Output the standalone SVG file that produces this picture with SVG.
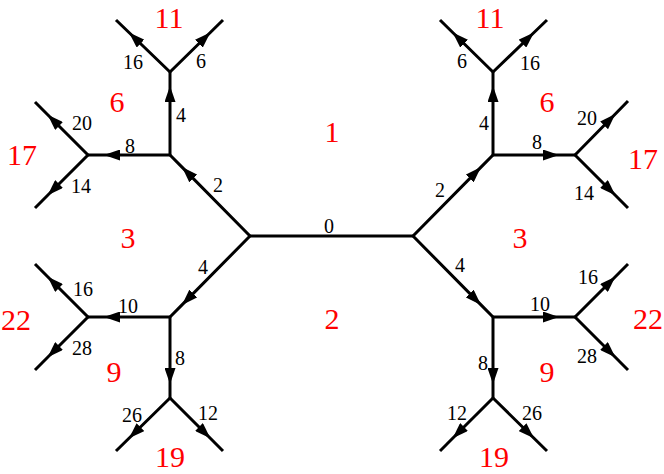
<svg xmlns="http://www.w3.org/2000/svg" width="664" height="474" viewBox="0 0 664 474">
<style>
.e{fill:none;stroke:#000;stroke-width:3;stroke-linecap:butt;stroke-linejoin:miter;marker-mid:url(#arr)}
.c{fill:none;stroke:#000;stroke-width:3}
.k{font-family:"Liberation Serif","DejaVu Serif",serif;font-size:20px;fill:#000;text-anchor:middle}
.r{font-family:"Liberation Serif","DejaVu Serif",serif;font-size:30px;fill:#ff0000;text-anchor:middle}
</style>
<defs>
<marker id="arr" markerUnits="userSpaceOnUse" viewBox="0 0 16 11" markerWidth="16" markerHeight="11" refX="16" refY="5.5" orient="auto">
<path d="M0,0 L16,5.5 L0,11 Z" fill="#000"/>
</marker>
</defs>
<rect width="664" height="474" fill="#fff"/>
<g id="connectors">
<path class="c" d="M250,236 L413,236"/>
<!-- left top -->
<path class="e" d="M250,236 L182,167.1 L170,155"/>
<path class="e" d="M170,155 L170,86 L170,72"/>
<path class="e" d="M170,155 L104,155 L88,155"/>
<path class="e" d="M170,72 L129,32.5 L116,20"/>
<path class="e" d="M170,72 L210.3,32.5 L223,20"/>
<path class="e" d="M88,155 L47.7,114.7 L35,102"/>
<path class="e" d="M88,155 L47.7,195.3 L35,208"/>
<!-- right top -->
<path class="e" d="M413,236 L481,167.1 L493,155"/>
<path class="e" d="M493,155 L493,86 L493,72"/>
<path class="e" d="M493,155 L559,155 L575,155"/>
<path class="e" d="M493,72 L452.7,32.5 L440,20"/>
<path class="e" d="M493,72 L534,32.5 L547,20"/>
<path class="e" d="M575,155 L615.3,114 L628,101"/>
<path class="e" d="M575,155 L615.3,195.3 L628,208"/>
<!-- left bottom -->
<path class="e" d="M250,236 L182,304.9 L170,317"/>
<path class="e" d="M170,317 L104,317 L88,317"/>
<path class="e" d="M170,317 L170,384 L170,398"/>
<path class="e" d="M88,317 L47.7,276.7 L35,264"/>
<path class="e" d="M88,317 L47.7,357.3 L35,370"/>
<path class="e" d="M170,398 L129,438.3 L116,451"/>
<path class="e" d="M170,398 L210.3,438.3 L223,451"/>
<!-- right bottom -->
<path class="e" d="M413,236 L481,304.9 L493,317"/>
<path class="e" d="M493,317 L559,317 L575,317"/>
<path class="e" d="M493,317 L493,384 L493,398"/>
<path class="e" d="M575,317 L615.3,276.7 L628,264"/>
<path class="e" d="M575,317 L615.3,357.3 L628,370"/>
<path class="e" d="M493,398 L452.7,438.3 L440,451"/>
<path class="e" d="M493,398 L534,438.3 L547,451"/>
</g>
<g id="edge-labels">
<text class="k" x="329" y="233">0</text>
<text class="k" x="218" y="192">2</text>
<text class="k" x="181" y="122">4</text>
<text class="k" x="133" y="69">16</text>
<text class="k" x="201" y="68">6</text>
<text class="k" x="130" y="153">8</text>
<text class="k" x="82" y="130">20</text>
<text class="k" x="81" y="193">14</text>
<text class="k" x="440" y="197">2</text>
<text class="k" x="484" y="130">4</text>
<text class="k" x="462" y="68">6</text>
<text class="k" x="530" y="70">16</text>
<text class="k" x="537" y="149">8</text>
<text class="k" x="587" y="125">20</text>
<text class="k" x="584" y="200">14</text>
<text class="k" x="203" y="274">4</text>
<text class="k" x="128" y="313">10</text>
<text class="k" x="83" y="296">16</text>
<text class="k" x="82" y="355">28</text>
<text class="k" x="180" y="365">8</text>
<text class="k" x="132" y="422">26</text>
<text class="k" x="208" y="420">12</text>
<text class="k" x="460" y="272">4</text>
<text class="k" x="540" y="311">10</text>
<text class="k" x="588" y="284">16</text>
<text class="k" x="587" y="363">28</text>
<text class="k" x="483" y="370">8</text>
<text class="k" x="457" y="420">12</text>
<text class="k" x="532" y="420">26</text>
</g>
<g id="face-labels">
<text class="r" x="332" y="142">1</text>
<text class="r" x="332" y="329">2</text>
<text class="r" x="169" y="28">11</text>
<text class="r" x="117" y="112">6</text>
<text class="r" x="22" y="165">17</text>
<text class="r" x="128" y="248">3</text>
<text class="r" x="490" y="28">11</text>
<text class="r" x="547" y="112">6</text>
<text class="r" x="643" y="169">17</text>
<text class="r" x="520" y="248">3</text>
<text class="r" x="16" y="330">22</text>
<text class="r" x="114" y="382">9</text>
<text class="r" x="170" y="467">19</text>
<text class="r" x="648" y="329">22</text>
<text class="r" x="547" y="382">9</text>
<text class="r" x="494" y="467">19</text>
</g>
</svg>
